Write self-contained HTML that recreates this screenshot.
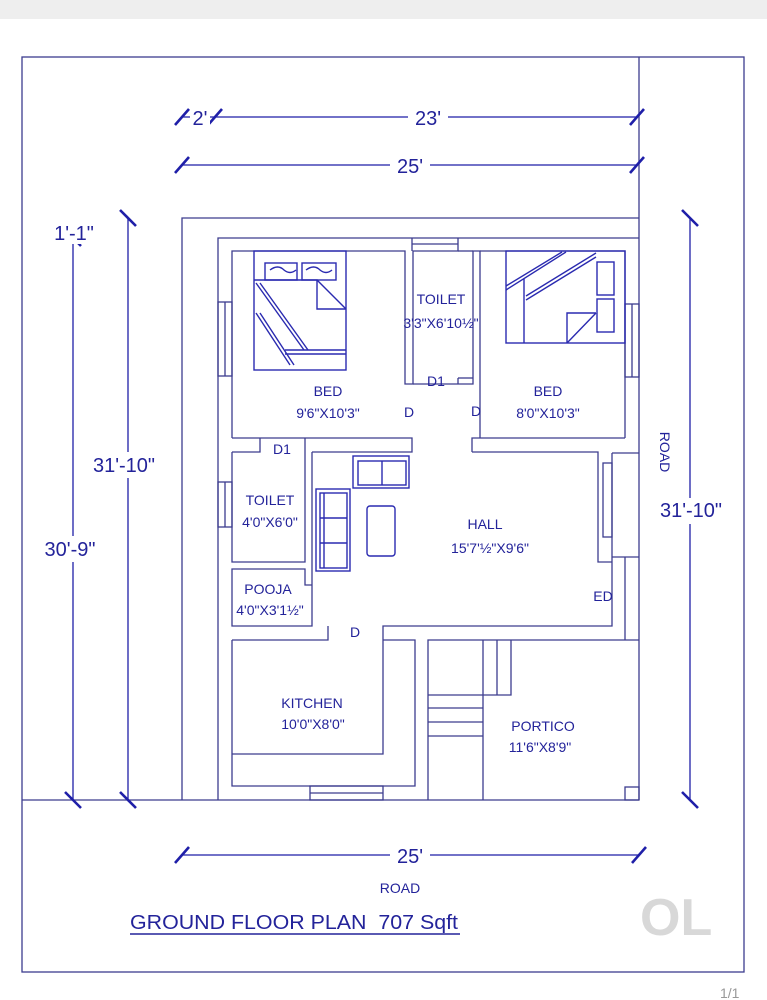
<!DOCTYPE html>
<html><head><style>
html,body{margin:0;padding:0;background:#fff}
svg{display:block}
text{font-family:"Liberation Sans",sans-serif;fill:#23239a}
</style></head><body>
<svg width="767" height="1000" viewBox="0 0 767 1000" xmlns="http://www.w3.org/2000/svg">
<rect x="0" y="0" width="767" height="19" fill="#eeeeee"/>
<g stroke="#3c3c8e" stroke-width="1.3" fill="none">
<rect x="22" y="57" width="722" height="915"/>
<line x1="639" y1="57" x2="639" y2="800"/>
<line x1="22" y1="800" x2="639" y2="800"/>
<polyline points="182,800 182,218 639,218"/>
<polyline points="218,800 218,238 639,238"/>
<polyline points="232,438 232,251 405,251 405,384 413,384 413,251 458,251 458,238"/>
<line x1="412" y1="238" x2="412" y2="251"/>
<line x1="412" y1="244" x2="458" y2="244"/>
<polyline points="413,384 473,384 473,251 480,251 480,438"/>
<line x1="458" y1="251" x2="473" y2="251"/>
<line x1="458" y1="378" x2="458" y2="384"/><line x1="458" y1="378" x2="473" y2="378"/>
<polyline points="480,251 625,251 625,438"/>
<rect x="218" y="302" width="14" height="74"/><line x1="225" y1="302" x2="225" y2="376"/>
<rect x="625" y="304" width="14" height="73"/><line x1="632" y1="304" x2="632" y2="377"/>
<polyline points="232,438 412,438 412,452 312,452"/>
<polyline points="472,452 472,438 625,438"/>
<polyline points="472,452 598,452 598,463"/>
<polyline points="232,452 260,452 260,438"/>
<polyline points="305,438 305,562 232,562 232,452"/>
<rect x="218" y="482" width="14" height="45"/><line x1="225" y1="482" x2="225" y2="527"/>
<polyline points="312,452 312,626 232,626 232,569 305,569 305,585 312,585"/>
<polyline points="232,640 328,640 328,626"/>
<polyline points="383,640 383,626 612,626 612,453"/>
<polyline points="598,463 598,562 612,562"/>
<rect x="603" y="463" width="9" height="74"/>
<line x1="612" y1="453" x2="639" y2="453"/>
<line x1="612" y1="557" x2="639" y2="557"/>
<line x1="625" y1="557" x2="625" y2="640"/>
<line x1="612" y1="640" x2="639" y2="640"/>
<polyline points="383,640 415,640 415,786 232,786 232,640"/>
<polyline points="232,754 383,754 383,640"/>
<rect x="310" y="786" width="73" height="14"/><line x1="310" y1="793" x2="383" y2="793"/>
<polyline points="428,800 428,640 612,640"/>
<line x1="483" y1="640" x2="483" y2="800"/>
<line x1="497" y1="640" x2="497" y2="695"/>
<polyline points="511,640 511,695 428,695"/>
<line x1="428" y1="708" x2="483" y2="708"/>
<line x1="428" y1="722" x2="483" y2="722"/>
<line x1="428" y1="736" x2="483" y2="736"/>
<rect x="625" y="787" width="14" height="13"/>
</g>
<g stroke="#2a2ab0" stroke-width="1.4" fill="none">
<rect x="254" y="251" width="92" height="119"/>
<rect x="265" y="263" width="32" height="17"/><rect x="302" y="263" width="34" height="17"/>
<path d="M270 270 q8 -6 14 0 q6 5 12 0 M306 270 q8 -6 14 0 q6 5 12 0"/>
<polyline points="254,280 317,280 317,309 346,309"/><line x1="317" y1="280" x2="346" y2="309"/>
<line x1="256" y1="283" x2="304" y2="350"/><line x1="260" y1="283" x2="308" y2="350"/>
<line x1="256" y1="313" x2="290" y2="365"/><line x1="260" y1="313" x2="294" y2="365"/>
<line x1="285" y1="350" x2="346" y2="350"/><line x1="285" y1="354" x2="346" y2="354"/>
<rect x="506" y="251" width="119" height="92"/>
<line x1="506" y1="286" x2="562" y2="252"/><line x1="506" y1="290" x2="566" y2="252"/>
<line x1="526" y1="296" x2="596" y2="253"/><line x1="526" y1="300" x2="596" y2="257"/>
<line x1="524" y1="279" x2="524" y2="343"/>
<rect x="597" y="262" width="17" height="33"/><rect x="597" y="299" width="17" height="33"/>
<polyline points="596,313 567,313 567,343"/><line x1="567" y1="343" x2="596" y2="313"/>
<rect x="353" y="456" width="56" height="32"/><rect x="358" y="461" width="48" height="24"/>
<line x1="382" y1="461" x2="382" y2="485"/>
<rect x="316" y="489" width="34" height="82"/><rect x="320" y="493" width="27" height="75"/>
<line x1="324" y1="493" x2="324" y2="568"/>
<line x1="320" y1="518" x2="347" y2="518"/><line x1="320" y1="543" x2="347" y2="543"/>
<rect x="367" y="506" width="28" height="50" rx="3"/>
</g>
<g stroke="#1f1fa8" stroke-width="1.3" fill="none">
<line x1="182" y1="117" x2="637" y2="117"/>
<line x1="182" y1="165" x2="637" y2="165"/>
<line x1="182" y1="855" x2="639" y2="855"/>
<line x1="128" y1="218" x2="128" y2="800"/>
<line x1="73" y1="238" x2="73" y2="800"/>
<line x1="690" y1="218" x2="690" y2="800"/>
</g>
<g stroke="#1f1fa8" stroke-width="2.6">
<line x1="175" y1="125" x2="189" y2="109"/><line x1="208" y1="125" x2="222" y2="109"/><line x1="630" y1="125" x2="644" y2="109"/>
<line x1="175" y1="173" x2="189" y2="157"/><line x1="630" y1="173" x2="644" y2="157"/>
<line x1="175" y1="863" x2="189" y2="847"/><line x1="632" y1="863" x2="646" y2="847"/>
<line x1="120" y1="210" x2="136" y2="226"/><line x1="120" y1="792" x2="136" y2="808"/>
<line x1="65" y1="230" x2="81" y2="246"/><line x1="65" y1="792" x2="81" y2="808"/>
<line x1="682" y1="210" x2="698" y2="226"/><line x1="682" y1="792" x2="698" y2="808"/>
</g>
<g font-size="20" text-anchor="middle">
<rect x="190" y="106" width="20" height="22" fill="#fff"/><text x="200" y="125">2'</text>
<rect x="408" y="106" width="40" height="22" fill="#fff"/><text x="428" y="125">23'</text>
<rect x="390" y="154" width="40" height="22" fill="#fff"/><text x="410" y="173">25'</text>
<rect x="390" y="844" width="40" height="22" fill="#fff"/><text x="410" y="863">25'</text>
<rect x="90" y="452" width="76" height="26" fill="#fff"/><text x="124" y="472">31'-10"</text>
<rect x="40" y="536" width="62" height="26" fill="#fff"/><text x="70" y="556">30'-9"</text>
<rect x="54" y="220" width="40" height="24" fill="#fff"/><text x="74" y="240">1'-1"</text>
<rect x="655" y="498" width="72" height="26" fill="#fff"/><text x="691" y="517">31'-10"</text>
</g>
<g font-size="14" text-anchor="middle">
<text x="441" y="304">TOILET</text><text x="441" y="328">3'3"X6'10½"</text>
<text x="436" y="386">D1</text>
<text x="328" y="396">BED</text><text x="328" y="418">9'6"X10'3"</text>
<text x="548" y="396">BED</text><text x="548" y="418">8'0"X10'3"</text>
<text x="409" y="417">D</text><text x="476" y="416">D</text>
<text x="282" y="454">D1</text>
<text x="270" y="505">TOILET</text><text x="270" y="527">4'0"X6'0"</text>
<text x="485" y="529">HALL</text><text x="490" y="553">15'7'½"X9'6"</text>
<text x="268" y="594">POOJA</text><text x="270" y="615">4'0"X3'1½"</text>
<text x="603" y="601">ED</text>
<text x="355" y="637">D</text>
<text x="312" y="708">KITCHEN</text><text x="313" y="729">10'0"X8'0"</text>
<text x="543" y="731">PORTICO</text><text x="540" y="752">11'6"X8'9"</text>
<text x="400" y="893">ROAD</text>
<text transform="translate(660,452) rotate(90)" x="0" y="0">ROAD</text>
</g>
<text x="130" y="929" font-size="20" textLength="328" lengthAdjust="spacingAndGlyphs">GROUND FLOOR PLAN&#160;&#160;707 Sqft</text>
<line x1="130" y1="934" x2="460" y2="934" stroke="#23239a" stroke-width="1.5"/>
<text x="640" y="935" font-size="52" style="fill:#d8d8d8" font-weight="bold">OL</text>
<text x="720" y="998" font-size="14" style="fill:#999">1/1</text>
</svg>
</body></html>
